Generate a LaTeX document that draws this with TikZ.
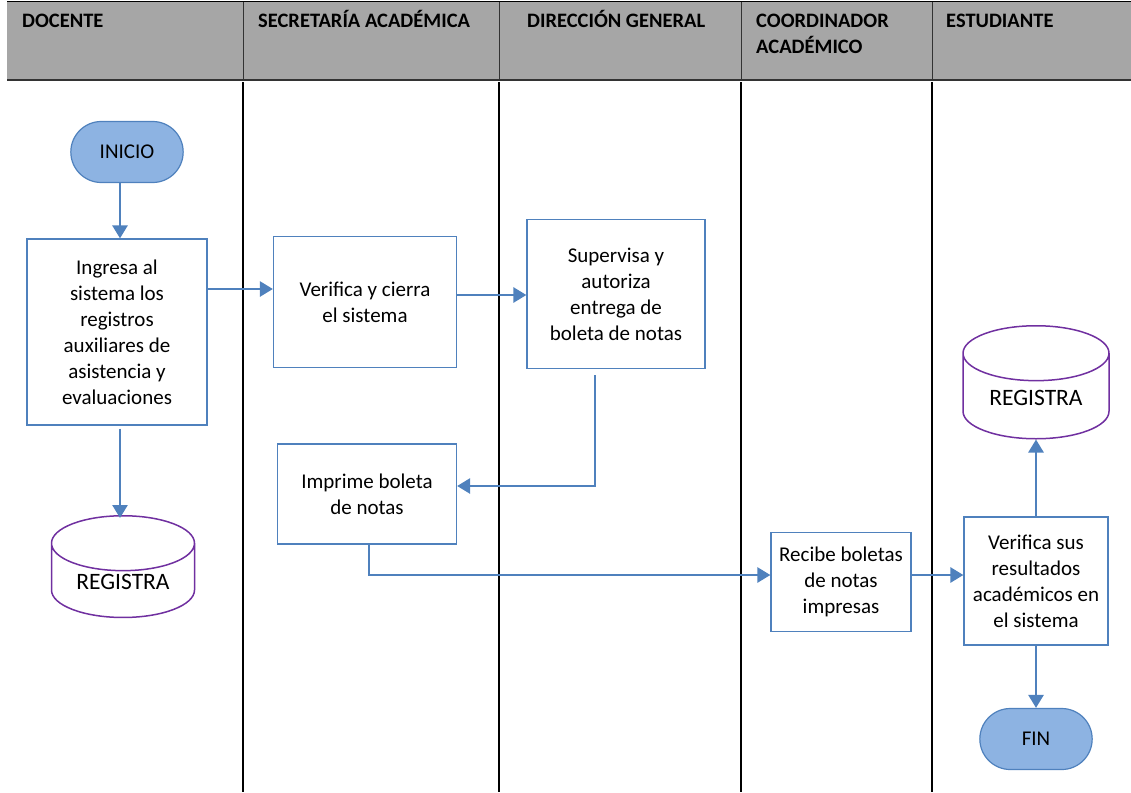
\documentclass[tikz,border=0pt]{standalone}
\usepackage{fontspec}
\setmainfont{Carlito}
\usepackage{tikz}
\usetikzlibrary{shapes.geometric,shapes.misc,arrows.meta}
\definecolor{gris}{HTML}{A6A6A6}
\definecolor{azul}{HTML}{4F81BD}
\definecolor{celeste}{HTML}{8DB3E2}
\definecolor{morado}{HTML}{7030A0}

\begin{document}
\begin{tikzpicture}[x=1pt,y=-1pt,font=\fontsize{21}{26}\selectfont,
	caja/.style={draw=azul,line width=1.2pt,align=center,inner sep=0pt},
	term/.style={rounded rectangle,draw=azul,line width=1.2pt,fill=celeste,minimum width=119pt,minimum height=61pt},
	bd/.style={cylinder,shape border rotate=90,draw=morado,line width=1.5pt,aspect=0.55,align=center,anchor=north,font=\fontsize{23.5}{28}\selectfont},
	flecha/.style={draw=azul,line width=2.6pt,-{Triangle[length=13pt,width=15pt]}},
	carril/.style={line width=1.6pt},
	titulo/.style={anchor=base west,align=left,font=\fontsize{20.5}{26}\selectfont\bfseries,inner sep=0pt}]
	\useasboundingbox (0,0) rectangle (1131,792);
	% cabecera
	\fill[gris] (7,2) rectangle (1131,80);
	\draw[line width=1pt] (7,2) -- (1131,2);
	\draw[line width=1.3pt,black!80] (7,80) -- (1131,80);
	\foreach \xc in {243,499,741,932}
	{
		\draw[line width=0.8pt,black!80] (\xc,2) -- (\xc,80);
		\draw[carril] (\xc,82) -- (\xc,792);
	}
	\node[titulo] (h1) at (22,28) {DOCENTE};
	\node[titulo] (h2) at (258,28) {SECRETARÍA ACADÉMICA};
	\node[titulo] (h3) at (527,28) {DIRECCIÓN GENERAL};
	\node[titulo] (h4) at (756,28) {COORDINADOR};
	\node[titulo] (h4b) at (756,54) {ACADÉMICO};
	\node[titulo] (h5) at (946,28) {ESTUDIANTE};
	% nodos
	\node[term] (ini) at (127,152) {INICIO};
	\node[caja,minimum width=180pt,minimum height=186pt] (ing) at (117,332)
	{Ingresa al\\sistema los\\registros\\auxiliares de\\asistencia y\\evaluaciones};
	\node[bd,minimum width=143pt,minimum height=97pt] (reg1) at (123,515) {\raisebox{5pt}{REGISTRA}};
	\node[caja,minimum width=183pt,minimum height=131pt] (ver) at (365,302) {Verifica y cierra\\el sistema};
	\node[caja,minimum width=178pt,minimum height=149pt] (sup) at (616,294)
	{Supervisa y\\autoriza\\entrega de\\boleta de notas};
	\node[caja,minimum width=179pt,minimum height=100pt] (imp) at (367,494) {Imprime boleta\\de notas};
	\node[caja,minimum width=140pt,minimum height=99pt] (rec) at (841,582) {Recibe boletas\\de notas\\impresas};
	\node[caja,minimum width=144pt,minimum height=128pt] (vsr) at (1036,581)
	{Verifica sus\\resultados\\académicos en\\el sistema};
	\node[bd,minimum width=146pt,minimum height=113pt] (reg2) at (1036,325) {\raisebox{5pt}{REGISTRA}};
	\node[term] (fin) at (1036,739) {FIN};
	% conectores
	\draw[flecha] ([xshift=-7pt]ini.south) -- ([xshift=-7pt]ini.south |- ing.north);
	\draw[flecha] ([xshift=3pt,yshift=-3pt]ing.south) -- ([xshift=3pt,yshift=-3pt]ing.south |- reg1.north);
	\draw[flecha] ([yshift=43pt]ing.east) -- ([yshift=43pt]ing.east -| ver.west);
	\draw[flecha] ([yshift=7pt]ver.east) -- ([yshift=7pt]ver.east -| sup.west);
	\draw[flecha] ([xshift=-21pt,yshift=-6pt]sup.south) |- ([yshift=8pt]imp.east);
	\draw[flecha] ([xshift=2pt]imp.south) |- ([yshift=7pt]rec.west);
	\draw[flecha] ([yshift=7pt]rec.east) -- ([yshift=7pt]rec.east -| vsr.west);
	\draw[flecha] (vsr.north) -- (reg2.south);
	\draw[flecha] (vsr.south) -- (fin.north);
\end{tikzpicture}
\end{document}
